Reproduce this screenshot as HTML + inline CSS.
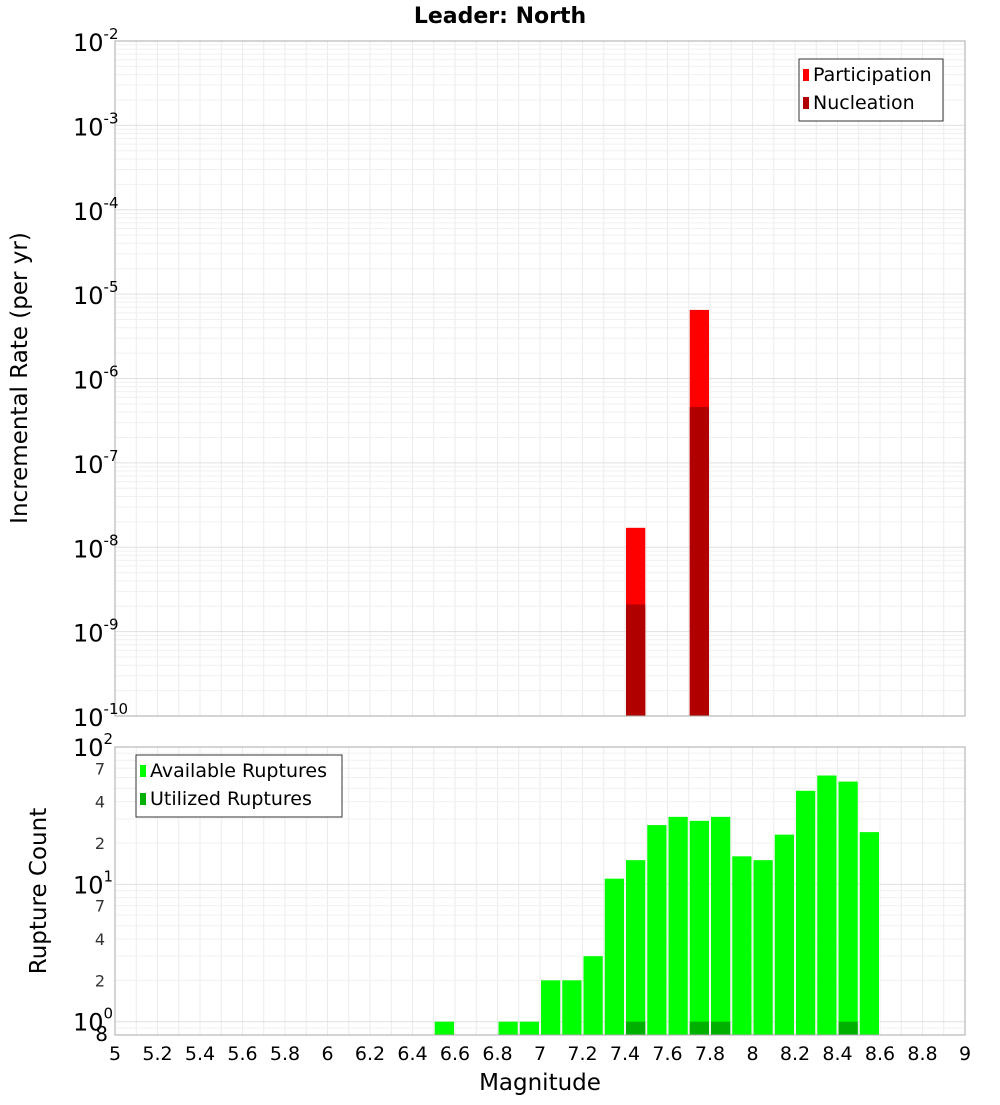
<!DOCTYPE html>
<html><head><meta charset="utf-8"><style>
body{margin:0;background:#fff;font-family:"Liberation Sans","DejaVu Sans",sans-serif}
svg text{font-family:"DejaVu Sans","Liberation Sans",sans-serif}
</style></head><body>
<svg id="c" width="1000" height="1100" xmlns="http://www.w3.org/2000/svg">
<text x="500" y="23" text-anchor="middle" font-size="22" font-weight="bold">Leader: North</text>
<g id="topPanel"></g>
<g id="botPanel"></g>
<text transform="translate(27,378) rotate(-90)" text-anchor="middle" font-size="23">Incremental Rate (per yr)</text>
<text transform="translate(46,891) rotate(-90)" text-anchor="middle" font-size="23">Rupture Count</text>
<text x="540" y="1090" text-anchor="middle" font-size="23">Magnitude</text>
</svg>
<script>
const rateMags=[7.4,7.7];
const participation=[1.7e-8,6.5e-6];
const nucleation=[2.1e-9,4.6e-7];
const countMags=[6.5,6.8,6.9,7.0,7.1,7.2,7.3,7.4,7.5,7.6,7.7,7.8,7.9,8.0,8.1,8.2,8.3,8.4,8.5];
const available=[1,1,1,2,2,3,11,15,27,31,29,31,16,15,23,48,62,56,24];
const utilizedMags=[7.4,7.7,7.8,8.4];
const utilized=[1,1,1,1];
const xTicks=["5","5.2","5.4","5.6","5.8","6","6.2","6.4","6.6","6.8","7","7.2","7.4","7.6","7.8","8","8.2","8.4","8.6","8.8","9"];

const NS="http://www.w3.org/2000/svg";
const X0=115,X1=965;
const xs=m=>X0+(m-5)/4*(X1-X0);
const T0=41,T1=716;
const yt=v=>T0+(-2-Math.log10(v))/8*(T1-T0);
const B0=747,B1=1035,BLO=Math.log10(0.8);
const yb=v=>B0+(2-Math.log10(v))/(2-BLO)*(B1-B0);
function mk(p,tag,a,txt){const e=document.createElementNS(NS,tag);for(const k in a)e.setAttribute(k,a[k]);if(txt!==undefined)e.textContent=txt;p.appendChild(e);return e;}
const topG=document.getElementById('topPanel'),botG=document.getElementById('botPanel'),svgEl=document.getElementById('c');

for(let i=0;i<=40;i++){const x=xs(5+i*0.1);
 let l=mk(topG,'line',{x1:x,x2:x,y1:T0,y2:T1,stroke:'#ebebeb'});
 
 
 l=mk(botG,'line',{x1:x,x2:x,y1:B0,y2:B1,stroke:'#ebebeb'});
 
 }
for(let d=-10;d<-2;d++)for(let k=1;k<10;k++){const y=yt(k*Math.pow(10,d));
 const l=mk(topG,'line',{x1:X0,x2:X1,y1:y,y2:y,stroke:k==1?'#e0e0e0':'#f0f0f0'});
 
 }
for(let d=-1;d<2;d++)for(let k=1;k<10;k++){const v=k*Math.pow(10,d);if(v<0.8)continue;const y=yb(v);
 const l=mk(botG,'line',{x1:X0,x2:X1,y1:y,y2:y,stroke:k==1?'#e0e0e0':'#f0f0f0'});
 
 }

rateMags.forEach((m,i)=>{
 let r=mk(topG,'rect',{x:xs(m)+1,width:xs(m+0.1)-xs(m)-2,y:yt(participation[i]),height:T1-yt(participation[i]),fill:'#ff0000'});
 
 
 r=mk(topG,'rect',{x:xs(m)+1,width:xs(m+0.1)-xs(m)-2,y:yt(nucleation[i]),height:T1-yt(nucleation[i]),fill:'#b00000'});
 
 
});
countMags.forEach((m,i)=>{
 const r=mk(botG,'rect',{x:xs(m)+1,width:xs(m+0.1)-xs(m)-2,y:yb(available[i]),height:B1-yb(available[i]),fill:'#00ff00'});
 
 
});
utilizedMags.forEach((m,i)=>{
 const r=mk(botG,'rect',{x:xs(m)+1,width:xs(m+0.1)-xs(m)-2,y:yb(utilized[i]),height:B1-yb(utilized[i]),fill:'#00b000'});
 
 
});
let f=mk(topG,'rect',{x:X0,y:T0,width:X1-X0,height:T1-T0,fill:'none',stroke:'#aaa'});


f=mk(botG,'rect',{x:X0,y:B0,width:X1-X0,height:B1-B0,fill:'none',stroke:'#aaa'});



for(let d=-2;d>=-10;d--){const y=yt(Math.pow(10,d));
 const t=mk(topG,'text',{x:73,y:y+10,'font-size':24});
 
 
 t.textContent='10';
 mk(t,'tspan',{dy:-12,'font-size':15},String(d));
}
[[100,'2'],[10,'1'],[1,'0']].forEach(([v,e])=>{const y=yb(v);
 const t=mk(botG,'text',{x:73,y:y+9,'font-size':24});
 
 
 t.textContent='10';
 mk(t,'tspan',{dy:-12,'font-size':15},e);
});
[70,40,20,7,4,2].forEach(v=>{const y=yb(v);
 const t=mk(botG,'text',{x:105,y:y+6,'font-size':16,'text-anchor':'end',fill:'#333'},String(v).replace(/0$/,''));
 
 
});
let t8=mk(botG,'text',{x:108,y:1041,'font-size':20,'text-anchor':'end'},'8');


xTicks.forEach(s=>{const t=mk(svgEl,'text',{x:xs(parseFloat(s)),y:1060,'font-size':19,'text-anchor':'middle'},s);
 
 });

function legend(p,x,y,w,items){const g=mk(p,'g',{});
 
 
 mk(g,'rect',{x:x,y:y,width:w,height:items.length*28+6,fill:'#fff',stroke:'#333'});
 items.forEach(([c,l],i)=>{const e=mk(g,'g',{});
  
  
  mk(e,'rect',{x:x+4,y:y+10+i*28,width:6,height:12,fill:c});
  mk(e,'text',{x:x+14,y:y+22+i*28,'font-size':19},l);});}
legend(topG,799,59,144,[['#ff0000','Participation'],['#b00000','Nucleation']]);
legend(botG,136,755,206,[['#00ff00','Available Ruptures'],['#00b000','Utilized Ruptures']]);
</script>
</body></html>
